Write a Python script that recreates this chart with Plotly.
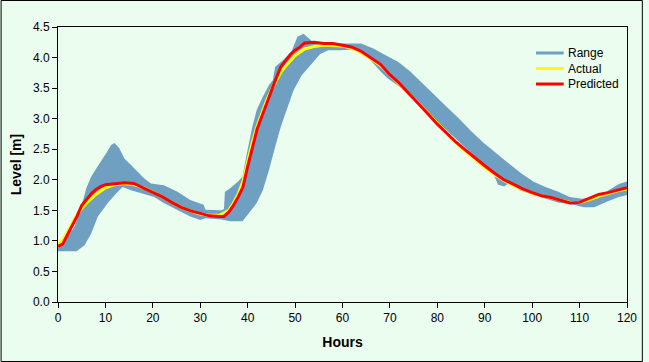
import plotly.graph_objects as go

# ---- data ----
range_upper_hours = [0, 1.5, 3.5, 4.9, 6, 7, 8.1, 9.1, 10.2, 11.2, 11.9, 12.9, 14, 15.4, 16.8, 18.2, 19.6,
                     22.3, 25.1, 27.9, 30.7, 31.1, 34.5, 35.0, 35.2, 36.3, 38, 38.9, 39.7, 41, 41.9, 43.2,
                     44.5, 45.3, 45.8, 47.5, 49.2, 50.5, 51.8, 53.1, 54, 56, 58, 60.4, 63.9, 66.5, 69, 71.7,
                     74.3, 76.9, 79.4, 82, 84.6, 87.2, 89.8, 92.4, 95, 97.6, 100.2, 102.8, 105.4, 107.9,
                     110.5, 113.1, 115.7, 118.3, 120]
range_upper = [0.88, 1.01, 1.23, 1.56, 1.87, 2.05, 2.19, 2.30, 2.44, 2.57, 2.60, 2.52, 2.35, 2.24, 2.13, 2.02, 1.94,
               1.91, 1.81, 1.67, 1.59, 1.51, 1.50, 1.52, 1.80, 1.86, 1.97, 2.05, 2.38, 2.87, 3.14, 3.36,
               3.55, 3.63, 3.85, 3.96, 4.09, 4.34, 4.39, 4.31, 4.24, 4.22, 4.23, 4.23, 4.23, 4.15, 4.04, 3.93,
               3.77, 3.57, 3.38, 3.19, 3.00, 2.79, 2.60, 2.43, 2.27, 2.11, 1.97, 1.88, 1.81, 1.72,
               1.69, 1.71, 1.81, 1.93, 1.97]

range_lower_hours = [0, 3.9, 5.6, 7, 8.4, 10.5, 12.3, 13.6, 15.4, 17.5, 20.3, 22.3, 25.1, 27.9, 30, 31.1, 34.5,
                     36.3, 38.9, 40.2, 41.9, 43.2, 44.5, 45.8, 47, 48.4, 49.7, 51.4, 53.5, 55.3, 57, 59.6,
                     62.2, 65.6, 68.2, 69.5, 72.1, 74.3, 76.9, 79.4, 82, 84.6, 87.2, 89.8, 91.5, 92.8, 94.1,
                     95, 97.6, 100.2, 102.8, 105.4, 108.8, 110.9, 113.1, 115.7, 118.3, 120]
range_lower = [0.83, 0.83, 0.93, 1.12, 1.40, 1.62, 1.78, 1.88, 1.83, 1.78, 1.72, 1.62, 1.51, 1.40, 1.34, 1.37, 1.35,
               1.32, 1.32, 1.45, 1.62, 1.83, 2.16, 2.54, 2.87, 3.19, 3.47, 3.71, 3.90, 4.06, 4.12, 4.12,
               4.13, 3.98, 3.76, 3.66, 3.52, 3.36, 3.17, 2.98, 2.81, 2.62, 2.43, 2.24, 2.16, 1.92, 1.89,
               1.94, 1.82, 1.75, 1.69, 1.63, 1.59, 1.55, 1.55, 1.64, 1.72, 1.75]

actual_hours = [0, 1, 2, 3, 4, 5, 6, 8, 10, 12, 14, 16, 18, 20, 22, 24, 26, 28, 30, 32, 34, 36, 37, 38, 39, 40,
                41, 42, 43, 44, 45, 46, 47, 48, 50, 52, 54, 56, 58, 60, 62, 64, 66, 68, 70, 72, 74, 76, 78,
                80, 82, 84, 86, 88, 90, 92, 94, 96, 98, 100, 102, 104, 106, 108, 110, 112, 114, 116, 118, 120]
actual = [0.94, 1.02, 1.15, 1.30, 1.43, 1.53, 1.62, 1.76, 1.87, 1.92, 1.94, 1.92, 1.87, 1.80, 1.72, 1.63, 1.55,
          1.49, 1.44, 1.42, 1.42, 1.50, 1.62, 1.77, 1.97, 2.30, 2.62, 2.88, 3.10, 3.30, 3.47, 3.62, 3.76, 3.86,
          4.03, 4.14, 4.18, 4.20, 4.20, 4.19, 4.15, 4.08, 3.98, 3.87, 3.72, 3.57, 3.41, 3.25, 3.09,
          2.92, 2.76, 2.60, 2.46, 2.33, 2.20, 2.09, 1.99, 1.91, 1.84, 1.78, 1.74, 1.70, 1.66, 1.63, 1.63,
          1.67, 1.73, 1.78, 1.82, 1.85]

predicted_hours = [0, 1, 2, 3, 4, 5, 6, 7, 8, 9, 10, 12, 14, 16, 18, 20, 22, 24, 26, 28, 30, 32, 34, 35, 36, 37,
                   38, 39, 40, 41, 42, 43, 44, 45, 46, 47, 48, 49, 50, 51, 52, 54, 56, 58, 60, 62, 64, 66, 68,
                   70, 72, 74, 76, 78, 80, 82, 84, 86, 88, 90, 92, 94, 96, 98, 100, 102, 104, 106, 108, 110,
                   112, 114, 116, 118, 120]
predicted = [0.91, 0.95, 1.10, 1.25, 1.40, 1.58, 1.68, 1.77, 1.84, 1.89, 1.92, 1.94, 1.95, 1.94, 1.87, 1.80, 1.72,
             1.63, 1.55, 1.49, 1.45, 1.41, 1.40, 1.40, 1.47, 1.58, 1.72, 1.88, 2.22, 2.55, 2.83, 3.04, 3.25,
             3.48, 3.66, 3.85, 3.95, 4.05, 4.12, 4.17, 4.24, 4.25, 4.23, 4.23, 4.20, 4.17, 4.10, 4.00, 3.89,
             3.72, 3.58, 3.41, 3.25, 3.08, 2.91, 2.76, 2.61, 2.48, 2.35, 2.23, 2.11, 2.00, 1.93, 1.85, 1.79,
             1.74, 1.71, 1.66, 1.62, 1.63, 1.70, 1.76, 1.79, 1.83, 1.87]

x_ticks = [0, 10, 20, 30, 40, 50, 60, 70, 80, 90, 100, 110, 120]
y_ticks = [0.0, 0.5, 1.0, 1.5, 2.0, 2.5, 3.0, 3.5, 4.0, 4.5]
series_names = ["Range", "Actual", "Predicted"]

BLUE = "#6F9FC1"
BG = "#EAFDEE"
colors = [BLUE, "#FFFF00", "#FF0000"]

fig = go.Figure()
fig.add_trace(go.Scatter(
    x=range_upper_hours + range_lower_hours[::-1],
    y=range_upper + range_lower[::-1],
    fill="toself", fillcolor=BLUE, mode="lines", line=dict(width=0, color=BLUE),
    name=series_names[0], showlegend=False, hoverinfo="skip"))
fig.add_trace(go.Scatter(x=actual_hours, y=actual, mode="lines", name=series_names[1],
                         showlegend=False, line=dict(color=colors[1], width=3)))
fig.add_trace(go.Scatter(x=predicted_hours, y=predicted, mode="lines", name=series_names[2],
                         showlegend=False, line=dict(color=colors[2], width=3)))

L, R, T, B = 58, 16, 27, 60
W, H = 649, 362
pw, ph = W - L - R, H - T - B


def px_x(p):
    return (p - L) / pw


def px_y(p):
    return (H - B - p) / ph


shapes = [dict(type="rect", xref="paper", yref="paper",
               x0=px_x(0.5), x1=px_x(W - 0.5), y0=px_y(H - 0.5), y1=px_y(0.5),
               line=dict(color="#000", width=1), layer="above")]
annotations = []
legend_rows = [53, 68.5, 84]
for name, col, row in zip(series_names, colors, legend_rows):
    shapes.append(dict(type="line", xref="paper", yref="paper",
                       x0=px_x(541), x1=px_x(569), y0=px_y(row), y1=px_y(row),
                       line=dict(color=col, width=3)))
    annotations.append(dict(text=name, xref="paper", yref="paper", x=px_x(571), y=px_y(row),
                            xanchor="left", yanchor="middle", showarrow=False,
                            font=dict(size=12, color="#000")))

fig.update_layout(
    width=W, height=H, autosize=False,
    margin=dict(l=L, r=R, t=T, b=B),
    paper_bgcolor=BG, plot_bgcolor=BG,
    font=dict(family="Liberation Sans, Arial, sans-serif", size=12, color="#000000"),
    showlegend=False,
    xaxis=dict(range=[0, 120], tickvals=x_ticks, ticks="outside", ticklen=5, tickcolor="#000",
               showline=True, linecolor="#000", linewidth=1, mirror=True, showgrid=False, zeroline=False,
               title=dict(text="<b>Hours</b>", standoff=12)),
    yaxis=dict(range=[0, 4.5], tickvals=y_ticks, tickformat=".1f", ticks="outside", ticklen=5,
               tickcolor="#000", showline=True, linecolor="#000", linewidth=1, mirror=True,
               showgrid=False, zeroline=False, title=dict(text="<b>Level [m]</b>", standoff=8)),
    shapes=shapes,
    annotations=annotations,
)

fig.write_html("out.html", config={"displayModeBar": False},
               post_script="document.body.style.margin='0';document.body.style.overflow='hidden';")
